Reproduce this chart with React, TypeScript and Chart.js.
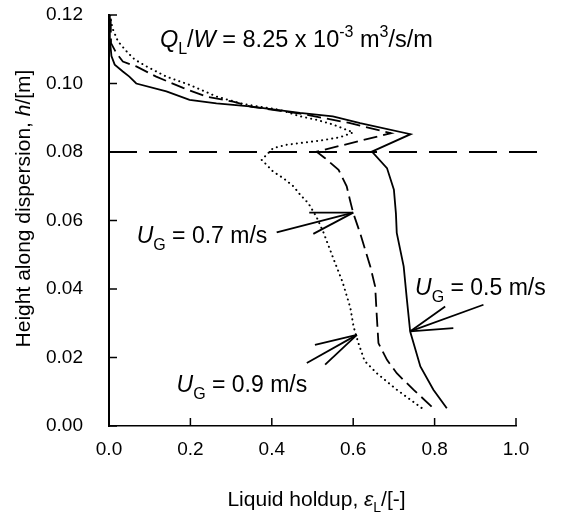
import { useEffect, useRef } from "react";
import { Chart, registerables } from "chart.js";

Chart.register(...registerables);

// ---- data (liquid holdup [-] vs height [m]) ----
const ug05Holdup = [0.000, 0.002, 0.006, 0.014, 0.034, 0.050, 0.067, 0.141, 0.198, 0.264, 0.346, 0.469, 0.550, 0.617, 0.741, 0.646, 0.683, 0.700, 0.705, 0.707, 0.724, 0.732, 0.740, 0.765, 0.797, 0.830];
const ug05Height = [0.120, 0.113, 0.108, 0.1055, 0.1035, 0.102, 0.100, 0.0977, 0.0952, 0.0942, 0.0933, 0.0914, 0.0904, 0.0884, 0.0852, 0.0801, 0.0753, 0.069, 0.062, 0.0564, 0.0466, 0.0368, 0.0276, 0.0174, 0.0106, 0.0052];

const ug07Holdup = [0.004, 0.005, 0.018, 0.034, 0.067, 0.116, 0.182, 0.239, 0.305, 0.350, 0.470, 0.590, 0.693, 0.510, 0.531, 0.564, 0.584, 0.592, 0.600, 0.617, 0.642, 0.654, 0.658, 0.662, 0.683, 0.707, 0.748, 0.797];
const ug07Height = [0.119, 0.1118, 0.1089, 0.1064, 0.105, 0.102, 0.0987, 0.0962, 0.0947, 0.0932, 0.0912, 0.0885, 0.0855, 0.0801, 0.0782, 0.0748, 0.070, 0.066, 0.0622, 0.0563, 0.0466, 0.0407, 0.032, 0.0242, 0.0193, 0.0154, 0.0106, 0.0052];

const ug09Holdup = [0.003, 0.005, 0.010, 0.022, 0.046, 0.063, 0.092, 0.141, 0.198, 0.264, 0.330, 0.420, 0.470, 0.510, 0.551, 0.600, 0.567, 0.517, 0.469, 0.436, 0.403, 0.375, 0.387, 0.403, 0.428, 0.453, 0.470, 0.490, 0.510, 0.527, 0.551, 0.574, 0.593, 0.601, 0.612, 0.628, 0.658, 0.707, 0.769];
const ug09Height = [0.120, 0.118, 0.1157, 0.1123, 0.109, 0.107, 0.105, 0.102, 0.0996, 0.0962, 0.094, 0.0923, 0.0904, 0.0894, 0.088, 0.0857, 0.0843, 0.0833, 0.0826, 0.0821, 0.0811, 0.0777, 0.0763, 0.0743, 0.0724, 0.070, 0.0675, 0.065, 0.061, 0.0565, 0.049, 0.042, 0.0345, 0.029, 0.0245, 0.019, 0.0154, 0.0106, 0.0052];

const clearLiquidHoldup = [0, 1.06];
const clearLiquidHeight = [0.08, 0.08];

const xMin = 0, xMax = 1.0, xStep = 0.2;
const yMin = 0, yMax = 0.12, yStep = 0.02;

const seriesNames = ["U_G = 0.5 m/s", "U_G = 0.7 m/s", "U_G = 0.9 m/s"];
const labelValues = ["0.5 m/s", "0.7 m/s", "0.9 m/s"];

// annotation anchors (data units): label, arrow tip, tail, barbs
const labelAt = [[0.752, 0.0383], [0.068, 0.0534], [0.166, 0.0098]];
const arrowTip = [[0.7396, 0.0276], [0.600, 0.0623], [0.609, 0.0266]];
const arrowTail = [[0.920, 0.0354], [0.412, 0.0565], [0.486, 0.0184]];
const arrowBarbA = [[0.826, 0.0349], [0.492, 0.0623], [0.506, 0.0237]];
const arrowBarbB = [[0.846, 0.0286], [0.502, 0.0561], [0.531, 0.0179]];
const titleAt = [0.125, 0.1107];

const FONT = '"Liberation Sans", Arial, Helvetica, sans-serif';

type Seg = { t: string; it?: boolean; sub?: boolean; sup?: boolean };

function drawRich(ctx: CanvasRenderingContext2D, segs: Seg[], x: number, y: number, size: number, align: "left" | "center" = "left") {
  const fontFor = (s: Seg) => `${s.it ? "italic " : ""}${s.sub || s.sup ? Math.round(size * 0.68) : size}px ${FONT}`;
  let total = 0;
  segs.forEach((s) => { ctx.font = fontFor(s); total += ctx.measureText(s.t).width; });
  let cx = align === "center" ? x - total / 2 : x;
  ctx.textAlign = "left";
  ctx.textBaseline = "alphabetic";
  segs.forEach((s) => {
    ctx.font = fontFor(s);
    const dy = s.sub ? size * 0.3 : s.sup ? -size * 0.42 : 0;
    ctx.fillText(s.t, cx, y + dy);
    cx += ctx.measureText(s.t).width;
  });
}

const overlayPlugin = {
  id: "overlay",
  afterDraw(chart: any) {
    const { ctx, chartArea: ca, scales } = chart;
    const xs = scales.x, ys = scales.y;
    const px = (v: number) => xs.getPixelForValue(v);
    const py = (v: number) => ys.getPixelForValue(v);
    ctx.save();
    ctx.strokeStyle = "#000";
    ctx.fillStyle = "#000";
    // inward tick marks
    ctx.lineWidth = 1.5;
    xs.ticks.forEach((t: any) => {
      const p = px(t.value);
      ctx.beginPath(); ctx.moveTo(p, ca.bottom); ctx.lineTo(p, ca.bottom - 8); ctx.stroke();
    });
    ys.ticks.forEach((t: any) => {
      const p = py(t.value);
      ctx.beginPath(); ctx.moveTo(ca.left, p); ctx.lineTo(ca.left + 8, p); ctx.stroke();
    });
    // arrows
    ctx.lineWidth = 1.8;
    for (let i = 0; i < arrowTip.length; i++) {
      const tip = arrowTip[i];
      [arrowTail[i], arrowBarbA[i], arrowBarbB[i]].forEach((e) => {
        ctx.beginPath(); ctx.moveTo(px(tip[0]), py(tip[1])); ctx.lineTo(px(e[0]), py(e[1])); ctx.stroke();
      });
    }
    // U_G labels
    for (let i = 0; i < labelAt.length; i++) {
      drawRich(ctx, [{ t: "U", it: true }, { t: "G", sub: true }, { t: " = " + labelValues[i] }], px(labelAt[i][0]), py(labelAt[i][1]), 23);
    }
    // flow title
    drawRich(ctx, [
      { t: "Q", it: true }, { t: "L", sub: true }, { t: "/" }, { t: "W", it: true },
      { t: " = 8.25 x 10" }, { t: "-3", sup: true }, { t: " m" }, { t: "3", sup: true }, { t: "/s/m" },
    ], px(titleAt[0]), py(titleAt[1]), 23.5);
    // axis titles
    drawRich(ctx, [{ t: "Liquid holdup, " }, { t: "ε", it: true }, { t: "L", sub: true }, { t: "/[-]" }],
      (ca.left + ca.right) / 2 + 4, 506, 21, "center");
    ctx.save();
    ctx.translate(30, (ca.top + ca.bottom) / 2 - 12);
    ctx.rotate(-Math.PI / 2);
    drawRich(ctx, [{ t: "Height along dispersion, " }, { t: "h", it: true }, { t: "/[m]" }], 0, 0, 21, "center");
    ctx.restore();
    ctx.restore();
  },
};

const toPoints = (xs: number[], ys: number[]) => xs.map((x, i) => ({ x, y: ys[i] }));

export default function App() {
  const ref = useRef<HTMLCanvasElement | null>(null);
  useEffect(() => {
    document.body.style.margin = "0";
    if (!ref.current) return;
    const chart = new Chart(ref.current, {
      type: "scatter",
      data: {
        datasets: [
          { label: seriesNames[0], data: toPoints(ug05Holdup, ug05Height), showLine: true, borderColor: "#000", borderWidth: 1.8, pointRadius: 0, fill: false },
          { label: seriesNames[1], data: toPoints(ug07Holdup, ug07Height), showLine: true, borderColor: "#000", borderWidth: 1.8, borderDash: [14, 6], pointRadius: 0, fill: false },
          { label: seriesNames[2], data: toPoints(ug09Holdup, ug09Height), showLine: true, borderColor: "#000", borderWidth: 2, borderDash: [0.1, 5], borderCapStyle: "round", pointRadius: 0, fill: false },
          { label: "h = 0.08 m", data: toPoints(clearLiquidHoldup, clearLiquidHeight), showLine: true, borderColor: "#000", borderWidth: 2, borderDash: [28, 12], pointRadius: 0, fill: false, clip: false },
        ],
      } as any,
      options: {
        animation: false,
        responsive: false,
        layout: { padding: { top: 15, right: 46, left: 0, bottom: 0 } },
        plugins: { legend: { display: false }, tooltip: { enabled: false } },
        scales: {
          x: {
            type: "linear", min: xMin, max: xMax,
            ticks: { stepSize: xStep, callback: (v: any) => Number(v).toFixed(1), color: "#000", font: { size: 19, family: FONT }, padding: 12, maxRotation: 0, autoSkip: false },
            grid: { display: false, drawTicks: false },
            border: { display: true, color: "#000", width: 1.5 },
            afterFit: (s: any) => { s.height = 91; s.paddingLeft = 0; s.paddingRight = 0; },
          },
          y: {
            type: "linear", min: yMin, max: yMax,
            ticks: { stepSize: yStep, callback: (v: any) => Number(v).toFixed(2), color: "#000", font: { size: 19, family: FONT }, padding: 26, autoSkip: false },
            grid: { display: false, drawTicks: false },
            border: { display: true, color: "#000", width: 2 },
            afterFit: (s: any) => { s.width = 109; s.paddingTop = 0; s.paddingBottom = 0; },
          },
        },
      } as any,
      plugins: [overlayPlugin],
    });
    return () => chart.destroy();
  }, []);
  return (
    <div style={{ width: 562, height: 517, overflow: "hidden", background: "#fff" }}>
      <canvas ref={ref} width={562} height={517} style={{ display: "block" }} />
    </div>
  );
}
